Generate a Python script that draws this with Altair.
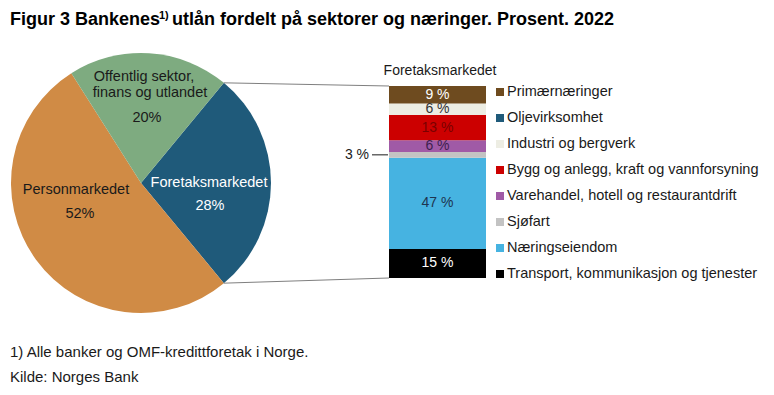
import math
import altair as alt
import pandas as pd

# ---------------- data ----------------
sectors = ["Foretaksmarkedet", "Personmarkedet", "Offentlig sektor, finans og utlandet"]
sector_share = [28, 52, 20]
sector_colors = ["#1F5A7A", "#D08B45", "#7EAB80"]

industries = [
    "Primærnæringer",
    "Oljevirksomhet",
    "Industri og bergverk",
    "Bygg og anlegg, kraft og vannforsyning",
    "Varehandel, hotell og restaurantdrift",
    "Sjøfart",
    "Næringseiendom",
    "Transport, kommunikasjon og tjenester",
]
industry_share = [9, 0, 6, 13, 6, 3, 47, 15]
industry_colors = ["#6E4B1F", "#1F5A7A", "#EDEDE3", "#CC0000", "#A05AA6", "#C3C3C3", "#46B3E1", "#000000"]
industry_labels = ["9 %", "", "6 %", "13 %", "6 %", "", "47 %", "15 %"]
label_colors = ["#FFFFFF", "#1F5A7A", "#333333", "#7A0000", "#3E1F4E", "#333333", "#1E3550", "#FFFFFF"]

FONT = "Liberation Sans"

# ---------------- geometry ----------------
W, H = 758, 379

def X(p):                  # page x -> chart x
    return p - 8

def Y(p):                  # page y -> chart y
    return p - 8

CX, CY, R = X(141), Y(183), 130
A0 = math.pi / 2 - math.pi * sector_share[0] / 100  # start angle of Foretaksmarkedet
A1 = A0 + 2 * math.pi * sector_share[0] / 100
BAR_X0, BAR_X1 = X(389), X(486)
BAR_TOP, BAR_BOT = Y(86), Y(278)

# ---------------- tables ----------------
pie_df = pd.DataFrame({"sector": sectors, "share": sector_share, "order": list(range(len(sectors)))})

total = sum(industry_share)
rows = []
cum = 0
for name, val, lab, lc in reversed(list(zip(industries, industry_share, industry_labels, label_colors))):
    rows.append({"cat": name, "start": cum, "end": cum + val, "mid": cum + val / 2, "label": lab, "lc": lc})
    cum += val
bar_df = pd.DataFrame(rows)
leg_df = pd.DataFrame({"cat": industries})

ind_color = alt.Color("cat:N", scale=alt.Scale(domain=industries, range=industry_colors), legend=None)
ybar = alt.Scale(domain=[0, total], range=[BAR_BOT, BAR_TOP])

# pie
pie = alt.Chart(pie_df).mark_arc(radius=R).encode(
    theta=alt.Theta("share:Q", stack=True,
                    scale=alt.Scale(domain=[0, 100], range=[A0, A0 + 2 * math.pi])),
    color=alt.Color("sector:N", scale=alt.Scale(domain=sectors, range=sector_colors), legend=None),
    order=alt.Order("order:Q"),
    x=alt.value(CX), y=alt.value(CY),
)

def txt(text, x, y, size=14.5, color="#1a1a1a", weight="normal", align="center", baseline="middle"):
    return alt.Chart(pd.DataFrame({"t": [text]})).mark_text(
        font=FONT, fontSize=size, color=color, fontWeight=weight, align=align, baseline=baseline
    ).encode(text="t:N", x=alt.value(X(x)), y=alt.value(Y(y)))

pie_labels = [
    txt("Offentlig sektor,", 144, 77),
    txt("finans og utlandet", 150, 93),
    txt("20%", 147, 118),
    txt("Foretaksmarkedet", 209, 183, color="#FFFFFF"),
    txt("28%", 210, 206, color="#FFFFFF"),
    txt("Personmarkedet", 76, 190),
    txt("52%", 80, 214),
]

# connecting lines
def seg(x1, y1, x2, y2):
    return alt.Chart(pd.DataFrame({"a": [0]})).mark_rule(color="#7F7F7F", strokeWidth=1).encode(
        x=alt.value(x1), y=alt.value(y1), x2=alt.value(x2), y2=alt.value(y2))

top_pt = (CX + R * math.sin(A0), CY - R * math.cos(A0))
bot_pt = (CX + R * math.sin(A1), CY - R * math.cos(A1))
lines = [
    seg(top_pt[0], top_pt[1], BAR_X0, BAR_TOP),
    seg(bot_pt[0], bot_pt[1], BAR_X0, BAR_BOT),
]

# stacked bar
bar = alt.Chart(bar_df).mark_bar().encode(
    x=alt.value(BAR_X0), x2=alt.value(BAR_X1),
    y=alt.Y("start:Q", scale=ybar, axis=None), y2="end:Q",
    color=ind_color,
)
bar_text = alt.Chart(bar_df).transform_filter("datum.label != ''").mark_text(
    font=FONT, fontSize=14, baseline="middle", align="center"
).encode(
    x=alt.value((BAR_X0 + BAR_X1) / 2),
    y=alt.Y("mid:Q", scale=ybar, axis=None),
    text="label:N",
    color=alt.Color("lc:N", scale=None),
)
sjo = bar_df[bar_df["cat"] == "Sjøfart"]
sjo_tick = alt.Chart(sjo).mark_rule(color="#1a1a1a", strokeWidth=1).encode(
    x=alt.value(X(372)), x2=alt.value(BAR_X0 - 1), y=alt.Y("mid:Q", scale=ybar, axis=None))
sjo_text = alt.Chart(sjo).transform_calculate(t="format(datum.end - datum.start, 'd') + ' %'").mark_text(
    font=FONT, fontSize=14, align="center", baseline="middle", color="#1a1a1a"
).encode(x=alt.value(X(357)), y=alt.Y("mid:Q", scale=ybar, axis=None), text="t:N")

bar_title = txt("Foretaksmarkedet", 440, 71, size=14)

# legend
yleg = alt.Scale(type="point", domain=industries, range=[Y(92), Y(274)], padding=0)
leg_sq = alt.Chart(leg_df).mark_square(size=64, opacity=1).encode(
    x=alt.value(X(500)), y=alt.Y("cat:N", scale=yleg, axis=None), color=ind_color)
leg_tx = alt.Chart(leg_df).mark_text(font=FONT, fontSize=14.5, align="left", baseline="middle", color="#1a1a1a").encode(
    x=alt.value(X(507)), y=alt.Y("cat:N", scale=yleg, axis=None), text="cat:N")

# title and notes
title = [
    txt("Figur 3 Bankenes", 10, 24.5, size=18, weight="bold", align="left", baseline="alphabetic", color="#000000"),
    txt("1)", 159, 18.5, size=11, weight="bold", align="left", baseline="alphabetic", color="#000000"),
    txt("utlån fordelt på sektorer og næringer. Prosent. 2022", 172, 24.5, size=18, weight="bold",
        align="left", baseline="alphabetic", color="#000000"),
]
notes = [
    txt("1) Alle banker og OMF-kredittforetak i Norge.", 10, 352, size=15, align="left", color="#1a1a1a"),
    txt("Kilde: Norges Bank", 10, 377, size=15, align="left", color="#1a1a1a"),
]

chart = alt.layer(
    pie, *pie_labels, *lines, bar, bar_text, sjo_tick, sjo_text, bar_title, leg_sq, leg_tx, *title, *notes
).resolve_scale(
    color="independent", y="independent", x="independent", theta="independent"
).properties(
    width=W, height=H, padding=0, autosize=alt.AutoSizeParams(type="none")
).configure_view(stroke=None)

chart.save("out.html", embed_options={"renderer": "svg", "actions": False})
